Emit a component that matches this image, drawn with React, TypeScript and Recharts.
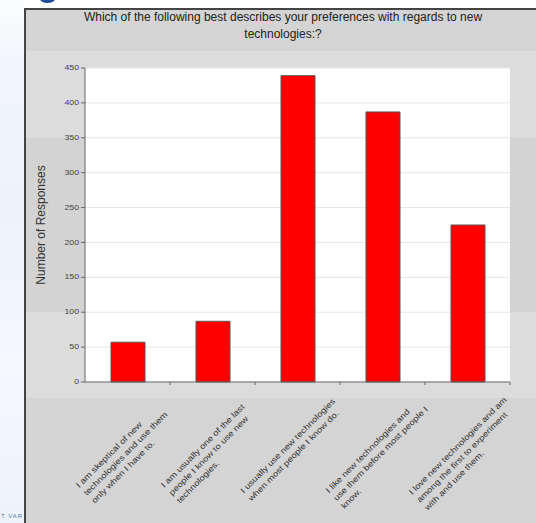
import { Bar, BarChart, CartesianGrid, Label, XAxis, YAxis } from 'recharts';

// survey answers, split into the lines they are printed on
const answerLines = [
  ['I am skeptical of new', 'technologies and use them', 'only when I have to.'],
  ['I am usually one of the last', 'people I know to use new', 'technologies.'],
  ['I usually use new technologies', 'when most people I know do.'],
  ['I like new technologies and', 'use them before most people I', 'know.'],
  ['I love new technologies and am', 'among the first to experiment', 'with and use them.'],
];
const answers = answerLines.map((l) => l.join(' '));
const responses = [57, 87, 439, 387, 225];
const yTicks = [0, 50, 100, 150, 200, 250, 300, 350, 400, 450];

const data = answers.map((answer, i) => ({ answer, responses: responses[i] }));

const W = 536;
const H = 523;
const MARGIN = { top: 68, right: 26, bottom: 0, left: 45 };
const Y_AXIS_W = 40;
const X_AXIS_H = 141;
const PLOT_W = W - MARGIN.left - Y_AXIS_W - MARGIN.right;
const HALF_BAND = PLOT_W / answers.length / 2;
const AXIS_Y = H - MARGIN.bottom - X_AXIS_H;
const FONT = '"Liberation Sans", Arial, Helvetica, sans-serif';
// the category labels are set in a short, wide face: small glyphs stretched sideways
const X_FONT_SIZE = 8;
const X_STRETCH = 1.2;
const X_LINE_H = 11;

let ctx: CanvasRenderingContext2D | null = null;
function textWidth(s: string) {
  if (!ctx) {
    ctx = document.createElement('canvas').getContext('2d');
    if (ctx) ctx.font = `${X_FONT_SIZE}px "Liberation Sans"`;
  }
  return ctx ? ctx.measureText(s).width : s.length * 4;
}

function AnswerTick(props: any) {
  const { x, index } = props;
  const lines = answerLines[index] ?? [];
  const w = Math.max(...lines.map(textWidth));
  const startX = (-52 - (w * X_STRETCH) / 2) / X_STRETCH;
  return (
    <g>
      <line x1={x + HALF_BAND} x2={x + HALF_BAND} y1={AXIS_Y} y2={AXIS_Y + 3} stroke="#666" />
      <g transform={`translate(${x},${AXIS_Y}) rotate(-45) scale(${X_STRETCH},1)`}>
        <text x={startX} y={41} fontSize={X_FONT_SIZE} fill="#333" fontFamily={FONT}>
          {lines.map((line, i) => (
            <tspan key={i} x={startX} dy={i === 0 ? 0 : X_LINE_H}>
              {line}
            </tspan>
          ))}
        </text>
      </g>
    </g>
  );
}

function renderYLabel(props: any) {
  const { x, y, height } = props.viewBox;
  return (
    <text
      transform={`translate(${x - 4},${y + height / 2}) rotate(-90)`}
      textAnchor="middle"
      dominantBaseline="central"
      fontSize={12}
      fill="#333"
      fontFamily={FONT}
    >
      Number of Responses
    </text>
  );
}

function YTick(props: any) {
  const { x, y, payload } = props;
  return (
    <text
      transform={`translate(${x},${y}) scale(1.25,0.9)`}
      textAnchor="end"
      dominantBaseline="central"
      fontSize={7}
      fill="#444"
      fontFamily={FONT}
    >
      {payload.value}
    </text>
  );
}

export default function App() {
  return (
    <div style={{ position: 'absolute', left: 0, top: 0, width: W, height: H, overflow: 'hidden', fontFamily: FONT }}>
      {/* page backdrop on the left */}
      <div
        style={{
          position: 'absolute',
          left: 0,
          top: 0,
          width: 24,
          height: H,
          background: 'linear-gradient(180deg, #fbfcfe 0%, #f2f6fb 12%, #edf3fa 40%, #f5f8fc 70%, #eef3f9 100%)',
        }}
      />
      <div style={{ position: 'absolute', left: 40, top: -5, width: 15, height: 8, borderRadius: '50%', background: '#1d4c9c' }} />
      <div style={{ position: 'absolute', left: 1, top: 513, fontSize: 6, color: '#5577aa', letterSpacing: 1 }}>T VAR</div>

      {/* panel */}
      <div style={{ position: 'absolute', left: 24, top: 8, width: W - 24, height: H - 8, background: '#d4d4d4', borderLeft: '2px solid #444', borderTop: '2px solid #444' }} />
      <div style={{ position: 'absolute', left: 26, top: 51, width: W - 26, height: 347, background: '#dcdcdc' }} />
      <div style={{ position: 'absolute', left: 26, top: 138, width: W - 26, height: 174, background: '#d3d3d3' }} />

      <div
        style={{
          position: 'absolute',
          left: 26,
          top: 9,
          width: 514,
          textAlign: 'center',
          fontSize: 12,
          lineHeight: '17px',
          color: '#222',
        }}
      >
        Which of the following best describes your preferences with regards to new
        <br />
        technologies:?
      </div>

      <div style={{ position: 'absolute', left: 0, top: 0 }}>
        <BarChart width={W} height={H} data={data} margin={MARGIN}>
          <CartesianGrid vertical={false} stroke="#e6e6e6" fill="#ffffff" />
          <XAxis
            dataKey="answer"
            height={X_AXIS_H}
            interval={0}
            tickLine={false}
            axisLine={{ stroke: '#666' }}
            tick={<AnswerTick />}
          />
          <YAxis
            width={Y_AXIS_W}
            domain={[0, 450]}
            ticks={yTicks}
            interval={0}
            tickSize={4}
            tickMargin={2}
            axisLine={{ stroke: '#666' }}
            tickLine={{ stroke: '#666' }}
            tick={<YTick />}
            label={<Label content={renderYLabel} />}
          />
          <Bar dataKey="responses" fill="#ff0000" stroke="#555" strokeWidth={1} barSize={34} isAnimationActive={false} />
        </BarChart>
      </div>
    </div>
  );
}
